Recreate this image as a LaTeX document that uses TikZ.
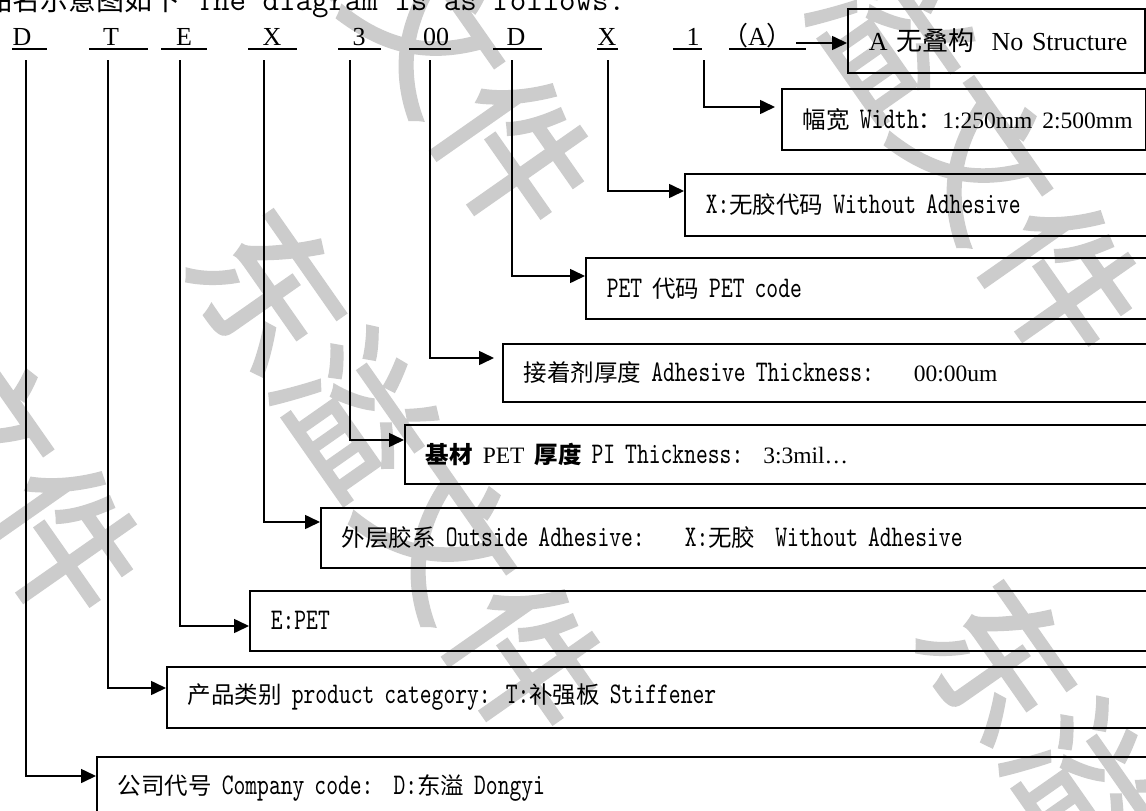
\documentclass[tikz,border=0pt]{standalone}
\usepackage{fontspec}
\setmainfont{Liberation Serif}
\newfontfamily\cjk{Noto Sans CJK SC}
\newfontfamily\wmfont{Noto Sans CJK SC}[FakeBold=2]
\newfontfamily\asc{lmmono10-regular.otf}[FakeStretch=0.75]
\usetikzlibrary{arrows.meta,positioning}
\newcommand\zhs[1]{{\cjk\fontsize{23.5}{28}\selectfont #1}}
\newcommand\tms[1]{{\rmfamily\fontsize{23.5}{28}\selectfont #1}}
\definecolor{wmgray}{gray}{0.8}

\begin{document}
\begin{tikzpicture}[x=1pt, y=-1pt,
  code/.style={anchor=base, inner sep=0pt, font=\fontsize{26}{30}\selectfont},
  desc/.style={draw, line width=1.6pt, anchor=north west, inner xsep=21pt,
               inner ysep=0pt, align=left, font=\asc\fontsize{30}{32}\selectfont},
  arr/.style={line width=1.6pt, -{Triangle[length=15pt,width=14pt]}},
  uline/.style={line width=1.4pt},
  wmark/.style={text=wmgray, rotate=-55, inner sep=0pt,
                font=\wmfont\fontsize{150}{150}\selectfont}
]
\useasboundingbox (0,0) rectangle (1146,811);
\fill[white] (0,0) rectangle (1146,811);
\clip (0,0) rectangle (1146,811);

% watermark behind the diagram
\foreach \wx/\wy [count=\wi] in {399/474, 387/-32, 935/95, 1129/845, -64/356}
  { \node[wmark] (wm\wi) at (\wx,\wy) {东溢文件}; }

% header line, cut at the top
\node[anchor=base west, inner sep=0pt] (title) at (-16,10)
  {{\cjk\fontsize{28}{32}\selectfont 品名示意图如下}{\ttfamily\fontsize{32}{36}\selectfont\ The diagram is as follows:}};

% code letters with their underlines
\foreach \nm/\txt/\cx/\ua/\ub in {cD/D/22/12/47, cT/T/111/89/148, cE/E/184/161/207,
    cX/X/272/248/297, cS/3/359/338/381, cZ/00/436/409/451, cP/D/516/493/542,
    cN/X/607/597/618, cW/1/693/673/702}
  { \node[code] (\nm) at (\cx,45) {\txt}; \draw[uline] (\ua,49) -- (\ub,49); }
\node[code, anchor=base west] (cA) at (722,45) {{\cjk （}A{\cjk ）}};
\draw[uline] (729,49) -- (806,49);

% description boxes
\node[desc, text width=255pt, minimum height=64pt, font=\rmfamily\fontsize{26}{30}\selectfont]
  (bA) at (847,8) {\mbox{A {\cjk 无叠构}\ \ No Structure}};
\node[desc, text width=322pt, minimum height=61pt] (bW) at (781,88)
  {\mbox{\zhs{幅宽} Width\zhs{：}\tms{1:250mm 2:500mm}}};
\node[desc, text width=444pt, minimum height=62pt] (bX) at (684,173)
  {X:\zhs{无胶代码} Without Adhesive};
\node[desc, text width=543pt, minimum height=61pt] (bP) at (585,257)
  {PET \zhs{代码} PET code};
\node[desc, text width=626pt, minimum height=58pt] (bAd) at (502,343)
  {\zhs{接着剂厚度} Adhesive Thickness:\ \ \ \ \tms{00:00um}};
\node[desc, text width=724pt, minimum height=59pt] (bTh) at (404,424)
  {\zhs{\bfseries 基材} \tms{PET} \zhs{\bfseries 厚度} PI Thickness:\ \ \tms{3:3mil…}};
\node[desc, text width=808pt, minimum height=60pt] (bO) at (320,507)
  {\zhs{外层胶系} Outside Adhesive:\ \ \ \ X:\zhs{无胶}\ \ Without Adhesive};
\node[desc, text width=879pt, minimum height=60pt] (bE) at (249,590) {E:PET};
\node[desc, text width=962pt, minimum height=61pt] (bC) at (166,666)
  {\zhs{产品类别} product category: T:\zhs{补强板} Stiffener};
\node[desc, text width=1032pt, minimum height=62pt] (bCo) at (96,756)
  {\zhs{公司代号} Company code:\ \ D:\zhs{东溢} Dongyi};

% connectors
\foreach \v/\x in {vD/26, vT/108, vE/180, vX/264, vS/350, vZ/430, vP/512, vN/608, vW/704}
  { \coordinate (\v) at (\x,60); }
\coordinate (aA) at (796,43);
\draw[arr] (aA) -- (aA -| bA.west);
\draw[arr, shorten >=6pt] (vW) |- ([yshift=-19pt]bW.north west);
\draw[arr] (vN) |- ([yshift=-18pt]bX.north west);
\draw[arr] (vP) |- ([yshift=-19pt]bP.north west);
\draw[arr, shorten >=8pt] (vZ) |- ([yshift=-15pt]bAd.north west);
\draw[arr] (vS) |- ([yshift=-16pt]bTh.north west);
\draw[arr] (vX) |- ([yshift=-15pt]bO.north west);
\draw[arr] (vE) |- ([yshift=-36pt]bE.north west);
\draw[arr] (vT) |- ([yshift=-22pt]bC.north west);
\draw[arr] (vD) |- ([yshift=-20pt]bCo.north west);
\end{tikzpicture}
\end{document}
